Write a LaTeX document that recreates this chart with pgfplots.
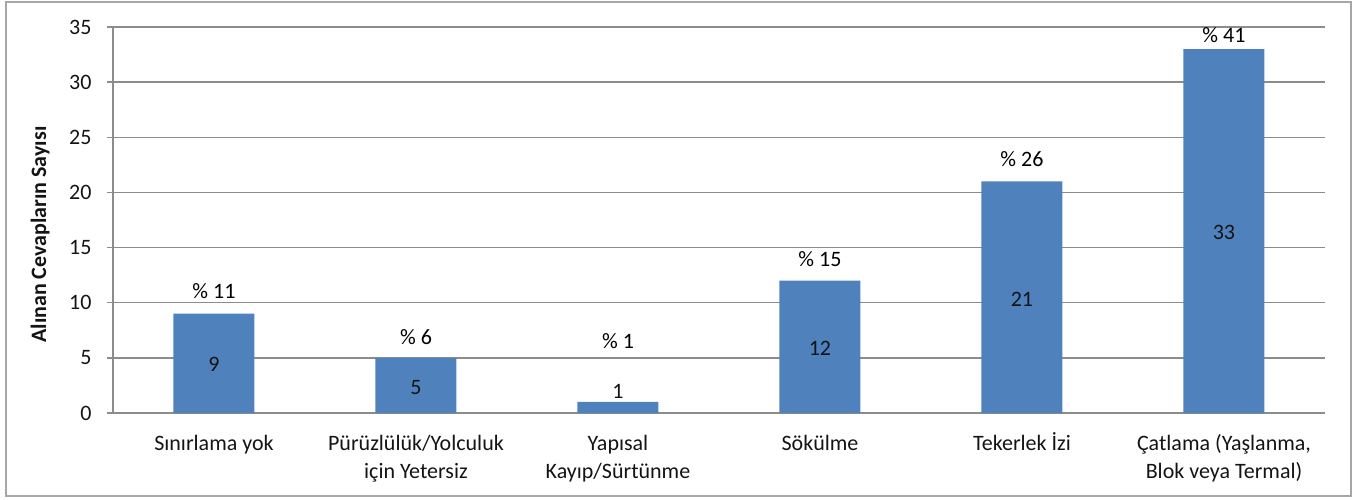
\documentclass[border=0pt]{standalone}
\usepackage{pgfplots}
\pgfplotsset{compat=1.18}
\usepackage{fontspec}
\setmainfont{Carlito}
\definecolor{barblue}{HTML}{4F81BD}
\definecolor{gridgray}{HTML}{8C8C8C}
\definecolor{framegray}{HTML}{A6A6A6}
\definecolor{labc}{HTML}{141414}
\newcommand\cf{\fontsize{22}{28}\selectfont}
\newcommand\ph{\vphantom{İ}}
\begin{document}
\begin{tikzpicture}[x=1pt,y=1pt]
\path (-113,-86) rectangle (1252,413);
\draw[framegray, line width=1.6pt] (-107,-83) rectangle (1238,411);
\begin{axis}[
  at={(0,0)}, anchor=south west,
  scale only axis, width=1212pt, height=386pt,
  xmin=-0.5, xmax=5.5, ymin=0, ymax=35,
  axis lines*=left,
  axis line style={gridgray, line width=1.3pt},
  ymajorgrids, grid style={gridgray, line width=1.3pt},
  ytick={0,5,...,35},
  xtick={0,...,5},
  xticklabels={{\ph Sınırlama yok},{\ph Pürüzlülük/Yolculuk\\için Yetersiz},{\ph Yapısal\\Kayıp/Sürtünme},{\ph Sökülme},{\ph Tekerlek İzi},{\ph Çatlama (Yaşlanma,\\Blok veya Termal)}},
  minor xtick={-0.5,0.5,...,5.5},
  xtick style={draw=none},
  minor x tick style={gridgray, line width=1.3pt},
  ytick style={gridgray, line width=1.3pt},
  tick align=outside,
  major tick length=6pt, minor tick length=6pt,
  /pgf/number format/assume math mode=true,
  tick label style={font=\cf, text=labc},
  xticklabel style={align=center, anchor=north, yshift=-10pt},
  yticklabel style={xshift=-12pt},
  ylabel={Alınan Cevapların Sayısı},
  every axis y label/.style={at={(axis description cs:-0.0602,0.462)}, rotate=90, anchor=center, font=\bfseries\cf, text=labc},
  clip=false,
]
\addplot[ybar, bar width=81pt, fill=barblue, draw=none] coordinates {(0,9) (1,5) (2,1) (3,12) (4,21) (5,33)};
\addplot[only marks, mark=none, nodes near coords, point meta=explicit symbolic, nodes near coords align=center,
  every node near coord/.append style={font=\cf, text=labc}]
  coordinates {(0,4.4)[9] (1,2.35)[5] (2,2.0)[1] (3,5.9)[12] (4,10.3)[21] (5,16.4)[33]};
\addplot[only marks, mark=none, nodes near coords, point meta=explicit symbolic, nodes near coords align=center,
  every node near coord/.append style={font=\cf, text=black}]
  coordinates {(0,11.06)[\% 11] (1,6.89)[\% 6] (2,6.48)[\% 1] (3,13.96)[\% 15] (4,23.03)[\% 26] (5,34.27)[\% 41]};
\end{axis}
\end{tikzpicture}
\end{document}
